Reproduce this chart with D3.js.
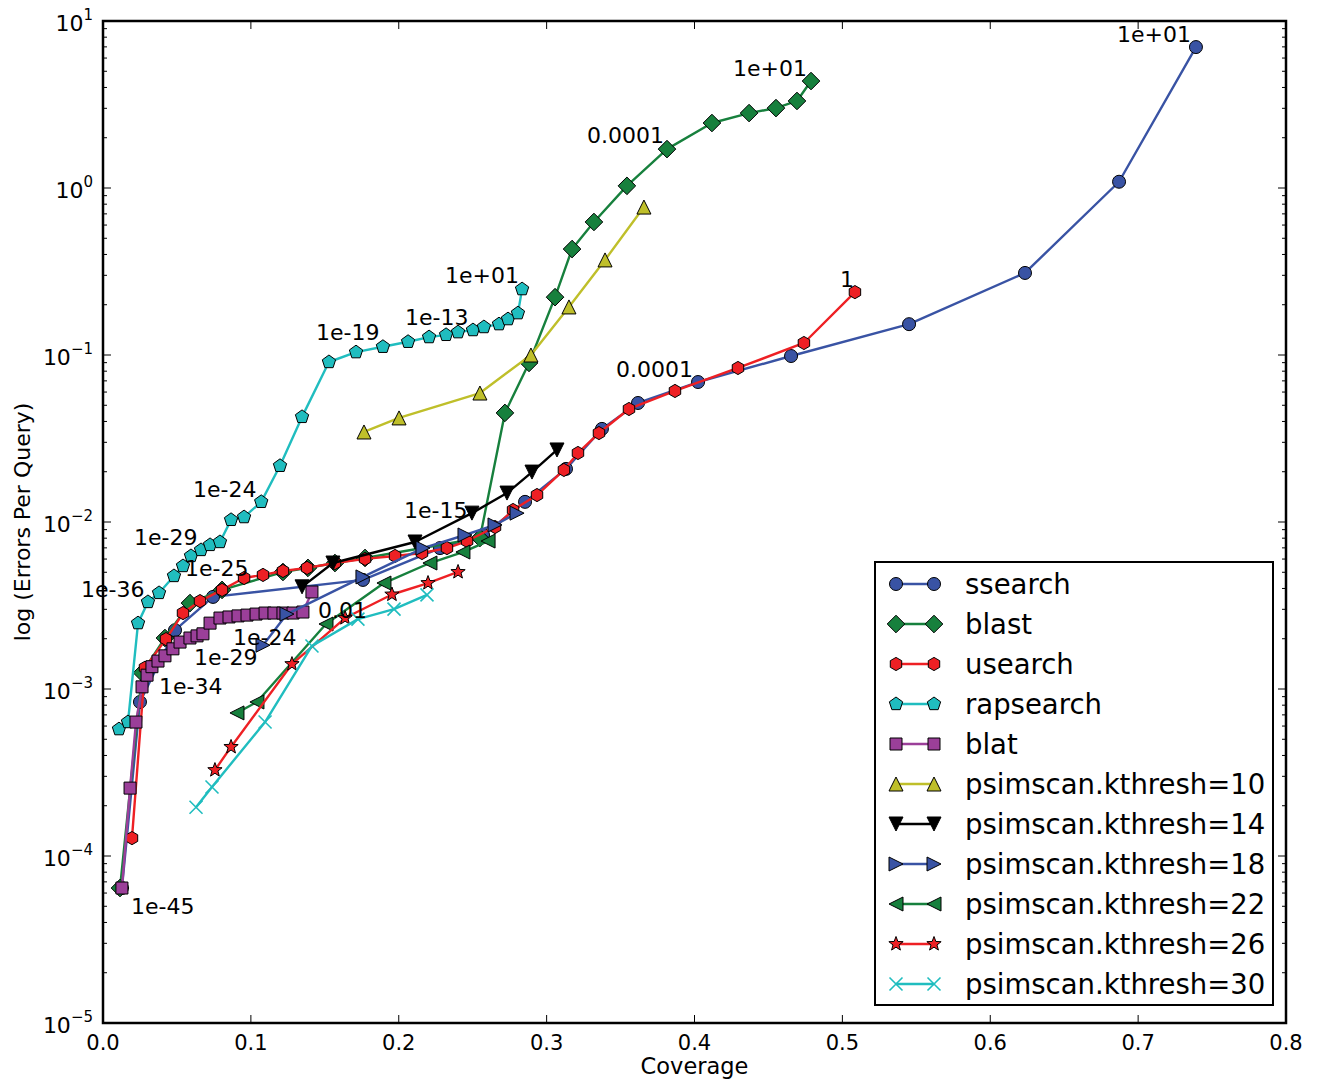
<!DOCTYPE html>
<html>
<head>
<meta charset="utf-8">
<script src="https://cdn.jsdelivr.net/npm/d3@7"></script>
<style>
  body { margin: 0; background: #fff; }
  text { font-family: "DejaVu Sans", sans-serif; fill: #000; }
</style>
</head>
<body>
<svg id="chart" width="1317" height="1079"></svg>
<script>
// [coverage, errors per query]
const ssearch = [[0.0128, 6.43e-5], [0.0250, 8.36e-4], [0.0487, 2.25e-3], [0.0744, 3.56e-3], [0.1758, 4.50e-3],
  [0.2279, 6.98e-3], [0.2570, 8.36e-3], [0.2854, 1.32e-2], [0.3131, 2.08e-2], [0.3374, 3.61e-2], [0.3618, 5.16e-2],
  [0.4024, 6.89e-2], [0.4653, 9.86e-2], [0.5451, 0.153], [0.6235, 0.310], [0.6871, 1.09], [0.7391, 6.98]];
const blast = [[0.0115, 6.43e-5], [0.0264, 1.25e-3], [0.0419, 2.02e-3], [0.0588, 3.27e-3], [0.0805, 3.92e-3],
  [0.1217, 5.02e-3], [0.1386, 5.31e-3], [0.1569, 5.68e-3], [0.1772, 6.09e-3], [0.2549, 8.02e-3], [0.2718, 4.50e-2],
  [0.2881, 8.96e-2], [0.3057, 0.222], [0.3172, 0.431], [0.3320, 0.626], [0.3543, 1.03], [0.3814, 1.71],
  [0.4118, 2.45], [0.4369, 2.81], [0.4551, 3.01], [0.4693, 3.32], [0.4788, 4.37]];
const usearch = [[0.0196, 1.28e-4], [0.0284, 1.34e-3], [0.0426, 1.99e-3], [0.0541, 2.85e-3], [0.0656, 3.36e-3],
  [0.0805, 3.92e-3], [0.0954, 4.62e-3], [0.1082, 4.82e-3], [0.1217, 5.09e-3], [0.1380, 5.31e-3], [0.1569, 5.68e-3],
  [0.1772, 6.01e-3], [0.1975, 6.26e-3], [0.2157, 6.52e-3], [0.2326, 6.98e-3], [0.2462, 7.69e-3], [0.2651, 9.33e-3],
  [0.2773, 1.18e-2], [0.2935, 1.45e-2], [0.3117, 2.05e-2], [0.3212, 2.59e-2], [0.3354, 3.41e-2], [0.3557, 4.75e-2],
  [0.3868, 6.09e-2], [0.4294, 8.36e-2], [0.4740, 0.118], [0.5085, 0.238]];
const rapsearch = [[0.0108, 5.75e-4], [0.0169, 6.34e-4], [0.0237, 2.48e-3], [0.0304, 3.32e-3], [0.0379, 3.76e-3],
  [0.0480, 4.75e-3], [0.0541, 5.45e-3], [0.0595, 6.26e-3], [0.0663, 6.80e-3], [0.0724, 7.29e-3], [0.0791, 7.59e-3],
  [0.0866, 1.03e-2], [0.0954, 1.07e-2], [0.1070, 1.32e-2], [0.1197, 2.17e-2], [0.1346, 4.26e-2], [0.1528, 9.08e-2],
  [0.1711, 0.104], [0.1893, 0.112], [0.2063, 0.120], [0.2205, 0.128], [0.2320, 0.132], [0.2401, 0.137],
  [0.2502, 0.141], [0.2576, 0.147], [0.2678, 0.153], [0.2739, 0.164], [0.2806, 0.178], [0.2834, 0.248]];
const blat = [[0.0128, 6.43e-5], [0.0183, 2.55e-4], [0.0223, 6.34e-4], [0.0264, 1.03e-3], [0.0298, 1.21e-3],
  [0.0331, 1.36e-3], [0.0372, 1.47e-3], [0.0419, 1.58e-3], [0.0473, 1.74e-3], [0.0521, 1.91e-3], [0.0588, 2.02e-3],
  [0.0636, 2.08e-3], [0.0676, 2.14e-3], [0.0724, 2.48e-3], [0.0791, 2.66e-3], [0.0852, 2.70e-3], [0.0913, 2.74e-3],
  [0.0974, 2.77e-3], [0.1035, 2.81e-3], [0.1096, 2.85e-3], [0.1156, 2.85e-3], [0.1217, 2.85e-3], [0.1285, 2.85e-3],
  [0.1352, 2.89e-3], [0.1413, 3.81e-3]];
const kthresh10 = [[0.1765, 3.46e-2], [0.2002, 4.20e-2], [0.2549, 5.92e-2], [0.2894, 0.100], [0.3151, 0.194],
  [0.3395, 0.371], [0.3658, 0.769]];
const kthresh14 = [[0.1346, 4.09e-3], [0.1555, 5.68e-3], [0.2110, 7.59e-3], [0.2495, 1.13e-2], [0.2732, 1.49e-2],
  [0.2901, 1.99e-2], [0.3070, 2.70e-2]];
const kthresh18 = [[0.1082, 1.83e-3], [0.1244, 2.81e-3], [0.1758, 4.69e-3], [0.2164, 6.98e-3], [0.2448, 8.36e-3],
  [0.2651, 9.60e-3], [0.2800, 1.13e-2]];
const kthresh22 = [[0.0906, 7.19e-4], [0.1041, 8.36e-4], [0.1508, 2.45e-3], [0.1900, 4.31e-3], [0.2211, 5.68e-3],
  [0.2434, 6.61e-3], [0.2604, 7.69e-3]];
const kthresh26 = [[0.0757, 3.27e-4], [0.0866, 4.50e-4], [0.1278, 1.41e-3], [0.1637, 2.66e-3], [0.1954, 3.68e-3],
  [0.2198, 4.31e-3], [0.2401, 5.02e-3]];
const kthresh30 = [[0.0629, 1.96e-4], [0.0737, 2.59e-4], [0.1096, 6.34e-4], [0.1413, 1.81e-3], [0.1724, 2.62e-3],
  [0.1968, 3.01e-3], [0.2191, 3.66e-3]];

// text position (left, baseline) in data units, label
const annotations = [[0.6857, 7.48, "1e+01"], [0.4260, 4.69, "1e+01"], [0.3273, 1.86, "0.0001"],
  [0.4984, 0.255, "1"], [0.3469, 0.0738, "0.0001"], [0.2313, 0.270, "1e+01"], [0.2042, 0.151, "1e-13"],
  [0.1440, 0.123, "1e-19"], [0.0609, 0.0141, "1e-24"], [0.0210, 7.28e-3, "1e-29"], [0.0555, 4.75e-3, "1e-25"],
  [-0.0149, 3.56e-3, "1e-36"], [0.2035, 1.06e-2, "1e-15"], [0.1454, 2.66e-3, "0.01"], [0.0879, 1.83e-3, "1e-24"],
  [0.0615, 1.39e-3, "1e-29"], [0.0379, 9.33e-4, "1e-34"], [0.0189, 4.50e-5, "1e-45"]];

const xTicks = [0, 0.1, 0.2, 0.3, 0.4, 0.5, 0.6, 0.7, 0.8];
const yExponents = [-5, -4, -3, -2, -1, 0, 1];

const series = [
  {name: "ssearch", data: ssearch, color: "#3953a4", marker: "circle"},
  {name: "blast", data: blast, color: "#17803d", marker: "diamond"},
  {name: "usearch", data: usearch, color: "#ee2024", marker: "hexagon"},
  {name: "rapsearch", data: rapsearch, color: "#20bdbf", marker: "pentagon"},
  {name: "blat", data: blat, color: "#9b3f99", marker: "square"},
  {name: "psimscan.kthresh=10", data: kthresh10, color: "#bfbf2a", marker: "triUp"},
  {name: "psimscan.kthresh=14", data: kthresh14, color: "#000000", marker: "triDown"},
  {name: "psimscan.kthresh=18", data: kthresh18, color: "#3953a4", marker: "triRight"},
  {name: "psimscan.kthresh=22", data: kthresh22, color: "#17803d", marker: "triLeft"},
  {name: "psimscan.kthresh=26", data: kthresh26, color: "#ee2024", marker: "star"},
  {name: "psimscan.kthresh=30", data: kthresh30, color: "#20bdbf", marker: "x"}
];

const plotLeft = 103, plotRight = 1286, plotTop = 21, plotBottom = 1023;
const svg = d3.select("#chart");
const x = d3.scaleLinear().domain([0, 0.8]).range([plotLeft, plotRight]);
const y = d3.scaleLog().domain([1e-5, 10]).range([plotBottom, plotTop]);

function poly(pts) { return "M" + pts.map(p => p.join(",")).join("L") + "Z"; }
function regular(n, r) {
  return poly(d3.range(n).map(i => {
    const a = i * 2 * Math.PI / n;
    return [r * Math.sin(a), -r * Math.cos(a)];
  }));
}
function starPath(r) {
  return poly(d3.range(10).map(i => {
    const rr = i % 2 ? r * 0.42 : r, a = i * Math.PI / 5;
    return [rr * Math.sin(a), -rr * Math.cos(a)];
  }));
}
const t = 7;
const markerPaths = {
  circle: d3.symbol(d3.symbolCircle, Math.PI * 6.5 * 6.5)(),
  diamond: regular(4, 8.8),
  hexagon: regular(6, 6.6),
  pentagon: regular(5, 7),
  square: "M-6,-6H6V6H-6Z",
  triUp: poly([[0, -t], [-t, t], [t, t]]),
  triDown: poly([[0, t], [-t, -t], [t, -t]]),
  triRight: poly([[t, 0], [-t, -t], [-t, t]]),
  triLeft: poly([[-t, 0], [t, -t], [t, t]]),
  star: starPath(7.5),
  x: "M-6.5,-6.5L6.5,6.5M-6.5,6.5L6.5,-6.5"
};

function drawMarker(g, s) {
  const p = g.append("path").attr("d", markerPaths[s.marker]);
  if (s.marker === "x") p.attr("fill", "none").attr("stroke", s.color).attr("stroke-width", 1.6);
  else p.attr("fill", s.color).attr("stroke", "#000").attr("stroke-width", 1);
}

// plot
const plot = svg.append("g");
const line = d3.line().x(d => x(d[0])).y(d => y(d[1]));
series.forEach(s => {
  const g = plot.append("g");
  g.append("path").datum(s.data).attr("d", line)
    .attr("fill", "none").attr("stroke", s.color).attr("stroke-width", 2.4).attr("stroke-linejoin", "round");
  g.selectAll(".m").data(s.data).enter().append("g")
    .attr("transform", d => `translate(${x(d[0])},${y(d[1])})`)
    .each(function() { drawMarker(d3.select(this), s); });
});

// annotations
svg.append("g").selectAll("text").data(annotations).enter().append("text")
  .attr("x", d => x(d[0])).attr("y", d => y(d[1]))
  .attr("font-size", 22).text(d => d[2]);

// frame + ticks
const axes = svg.append("g").attr("stroke", "#000");
axes.append("rect").attr("x", plotLeft).attr("y", plotTop)
  .attr("width", plotRight - plotLeft).attr("height", plotBottom - plotTop)
  .attr("fill", "none").attr("stroke-width", 2.5);
xTicks.forEach(v => {
  axes.append("line").attr("x1", x(v)).attr("x2", x(v)).attr("y1", plotBottom).attr("y2", plotBottom - 8).attr("stroke-width", 1);
  axes.append("line").attr("x1", x(v)).attr("x2", x(v)).attr("y1", plotTop).attr("y2", plotTop + 8).attr("stroke-width", 1);
  svg.append("text").attr("x", x(v)).attr("y", plotBottom + 27).attr("text-anchor", "middle")
    .attr("font-size", 21).text(v.toFixed(1));
});
yExponents.forEach(e => {
  const v = Math.pow(10, e);
  axes.append("line").attr("x1", plotLeft).attr("x2", plotLeft + 8).attr("y1", y(v)).attr("y2", y(v)).attr("stroke-width", 1);
  axes.append("line").attr("x1", plotRight).attr("x2", plotRight - 8).attr("y1", y(v)).attr("y2", y(v)).attr("stroke-width", 1);
  if (e < 1) {
    d3.range(2, 10).forEach(k => {
      const mv = k * v;
      axes.append("line").attr("x1", plotLeft).attr("x2", plotLeft + 4).attr("y1", y(mv)).attr("y2", y(mv)).attr("stroke-width", 1);
      axes.append("line").attr("x1", plotRight).attr("x2", plotRight - 4).attr("y1", y(mv)).attr("y2", y(mv)).attr("stroke-width", 1);
    });
  }
  const lbl = svg.append("text").attr("x", 93).attr("y", y(v) + 10).attr("text-anchor", "end").attr("font-size", 22);
  lbl.append("tspan").text("10");
  lbl.append("tspan").attr("font-size", 15).attr("dy", -11).text(e < 0 ? "\u2212" + (-e) : String(e));
});

svg.append("text").attr("x", (plotLeft + plotRight) / 2).attr("y", 1074).attr("text-anchor", "middle")
  .attr("font-size", 22.5).text("Coverage");
svg.append("text").attr("transform", `translate(30,${(plotTop + plotBottom) / 2}) rotate(-90)`)
  .attr("text-anchor", "middle").attr("font-size", 22).text("log (Errors Per Query)");

// legend
const legend = svg.append("g");
legend.append("rect").attr("x", 875).attr("y", 562).attr("width", 398).attr("height", 443)
  .attr("fill", "#fff").attr("stroke", "#000").attr("stroke-width", 2);
series.forEach((s, i) => {
  const yy = 584 + i * 40;
  const g = legend.append("g");
  g.append("line").attr("x1", 896).attr("x2", 934).attr("y1", yy).attr("y2", yy)
    .attr("stroke", s.color).attr("stroke-width", 2.4);
  [896, 934].forEach(xx => drawMarker(g.append("g").attr("transform", `translate(${xx},${yy})`), s));
  g.append("text").attr("x", 965).attr("y", yy + 10).attr("font-size", 27.5).text(s.name);
});
</script>
</body>
</html>
